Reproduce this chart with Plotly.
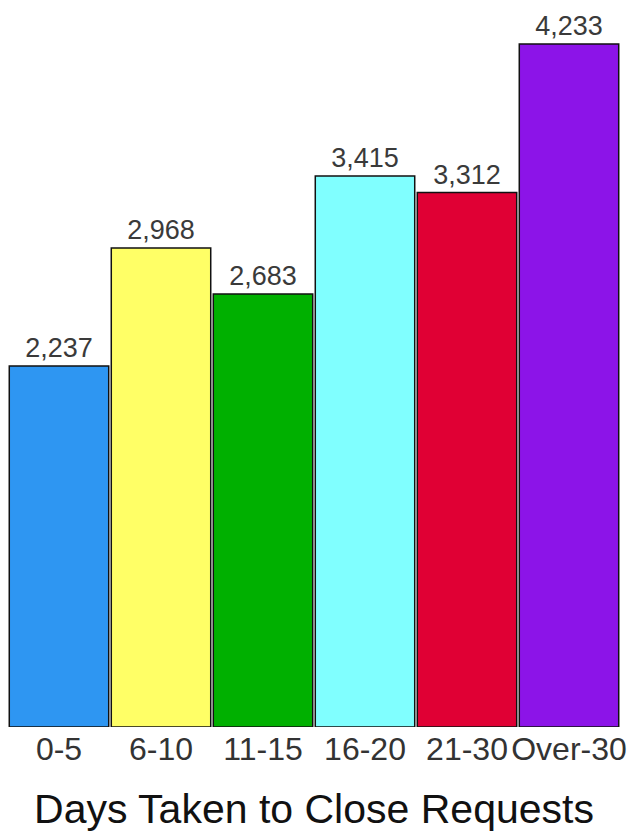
import plotly.graph_objects as go

categories = ["0-5", "6-10", "11-15", "16-20", "21-30", "Over-30"]
values = [2237, 2968, 2683, 3415, 3312, 4233]
colors = ["#2E96F2", "#FFFF66", "#00B000", "#80FFFF", "#E00034", "#8C14E8"]
labels = [f"{v:,}" for v in values]

FONT = "Liberation Sans, Arial, sans-serif"

fig = go.Figure(go.Bar(
    x=categories, y=values,
    marker=dict(color=colors, line=dict(color="#111111", width=1.5)),
    text=labels, textposition="outside", cliponaxis=False,
    textfont=dict(family=FONT, size=27, color="#3a3a3a"),
))

fig.update_layout(
    width=643, height=839,
    margin=dict(l=8, r=23, t=20, b=112),
    paper_bgcolor="white", plot_bgcolor="white",
    bargap=0.025,
    showlegend=False,
    xaxis=dict(
        showline=False, showgrid=False, ticks="", tickangle=0,
        tickfont=dict(family=FONT, size=32, color="#333333"),
        title=dict(text="Days Taken to Close Requests", standoff=28,
                   font=dict(family=FONT, size=41, color="#111111")),
    ),
    yaxis=dict(visible=False, range=[0, 4381]),
)

fig.write_html("out.html")
